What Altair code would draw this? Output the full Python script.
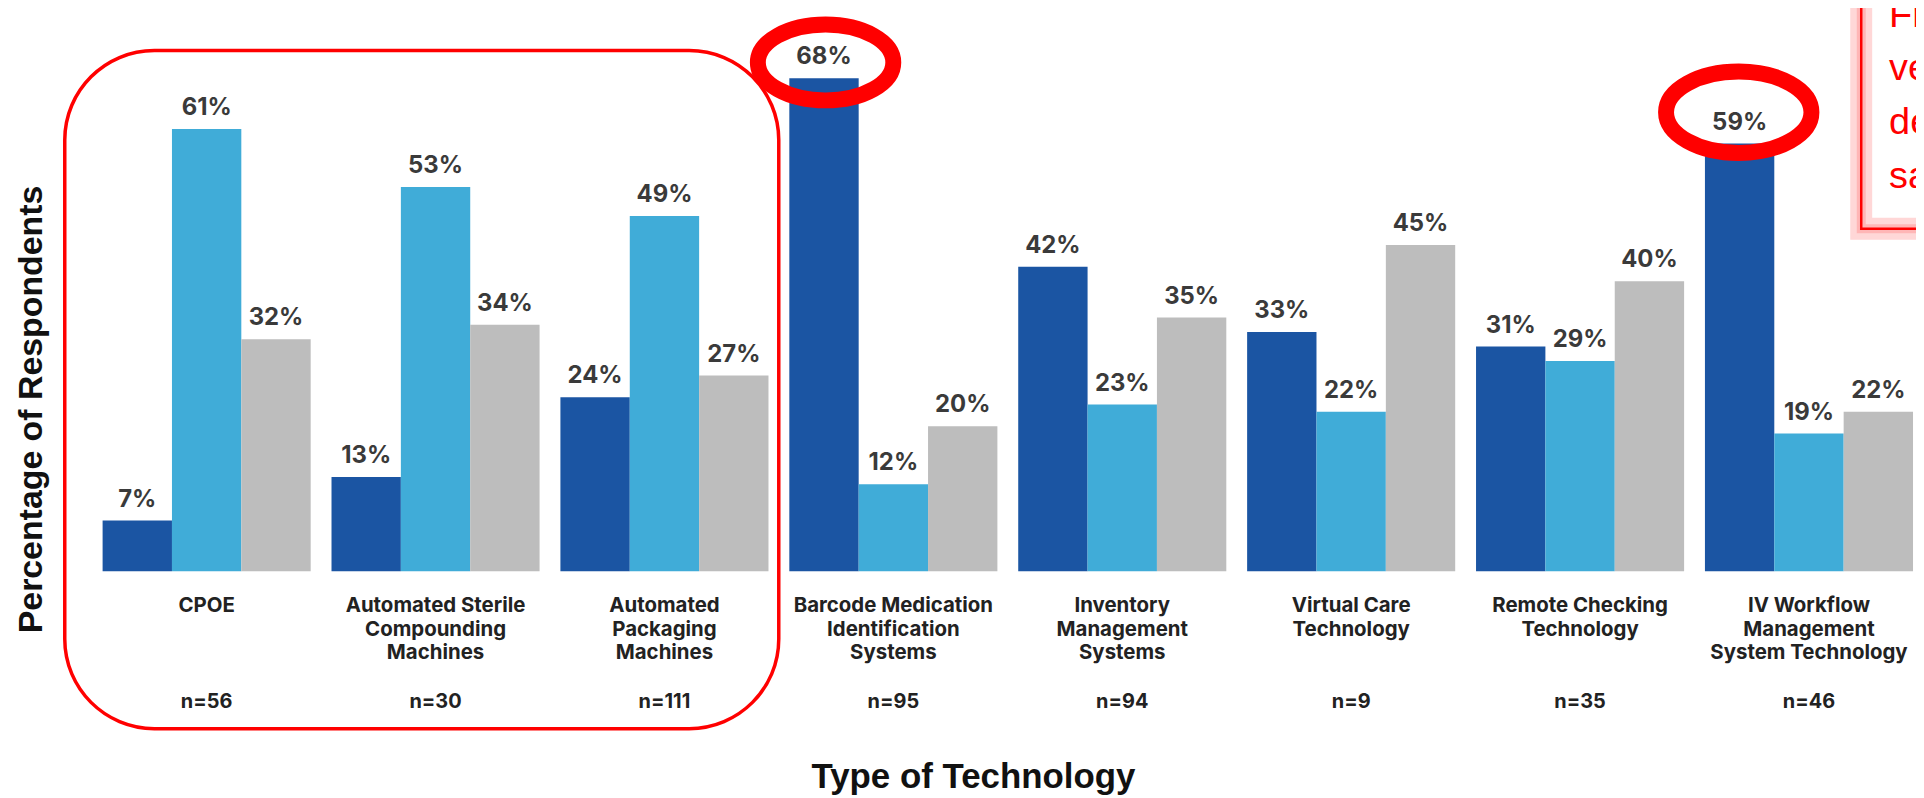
import altair as alt
import pandas as pd

# ---- data ----
categories = [
    "CPOE",
    "Automated Sterile|Compounding|Machines",
    "Automated|Packaging|Machines",
    "Barcode Medication|Identification|Systems",
    "Inventory|Management|Systems",
    "Virtual Care|Technology",
    "Remote Checking|Technology",
    "IV Workflow|Management|System Technology",
]
series = ["Series 1", "Series 2", "Series 3"]
series1 = [7, 13, 24, 68, 42, 33, 31, 59]
series2 = [61, 53, 49, 12, 23, 22, 29, 19]
series3 = [32, 34, 27, 20, 35, 45, 40, 22]
n_values = [56, 30, 111, 95, 94, 9, 35, 46]
colors = ["#1B55A3", "#40ACD8", "#BDBDBD"]
note_lines = ["Fr", "ve", "de", "sa"]

rows = []
for i, cat in enumerate(categories):
    for s, vals in zip(series, [series1, series2, series3]):
        rows.append({"category": cat, "series": s, "value": vals[i],
                     "label": f"{vals[i]}%"})
df = pd.DataFrame(rows)
ndf = pd.DataFrame({"category": categories,
                    "n": [f"n={v}" for v in n_values]})

W, H = 1818, 564
ymax = H / 7.28

x_enc = alt.X(
    "category:N", sort=categories,
    scale=alt.Scale(paddingInner=0.091, paddingOuter=0),
    axis=alt.Axis(
        title="Type of Technology", titleX=874, titleY=217,
        titleAlign="center", titleBaseline="alphabetic",
        titleFont="Liberation Sans", titleFontSize=35, titleFontWeight="bold",
        titleColor="#111111",
        labelExpr="split(datum.label, '|')", labelAngle=0,
        labelFont="Inter", labelFontSize=20.5, labelFontWeight="bold",
        labelColor="#222222", labelLineHeight=24, labelPadding=24,
        labelBaseline="top", labelLimit=400, labelOverlap=False,
        ticks=False, domain=False, grid=False,
    ),
)
xoff = alt.XOffset("series:N", sort=series,
                   scale=alt.Scale(paddingInner=0, paddingOuter=0))
y_enc = alt.Y(
    "value:Q", scale=alt.Scale(domain=[0, ymax], nice=False, zero=True),
    axis=alt.Axis(
        title="Percentage of Respondents", titleX=-61, titleY=401,
        titleAngle=270, titleAlign="center", titleBaseline="alphabetic",
        titleFont="Liberation Sans", titleFontSize=34, titleFontWeight="bold",
        titleColor="#111111",
        labels=False, ticks=False, domain=False, grid=False,
    ),
)
color_enc = alt.Color("series:N", sort=series,
                      scale=alt.Scale(domain=series, range=colors), legend=None)

bars = alt.Chart(df).mark_bar().encode(x=x_enc, xOffset=xoff, y=y_enc, color=color_enc)

values = alt.Chart(df).mark_text(
    font="Inter", fontSize=24, fontWeight="bold", color="#3a3a3a",
    baseline="middle", dy=-21,
).encode(x=x_enc, xOffset=xoff, y=y_enc, text="label:N")

nlabels = alt.Chart(ndf).mark_text(
    font="Inter", fontSize=20, fontWeight="bold", color="#222222",
    baseline="middle",
).encode(x=x_enc, y=alt.value(695), text="n:N")

one = alt.Data(values=[{"a": 1}])

# annotation: rounded box around the first three groups
box = alt.Chart(one).mark_rect(
    filled=False, stroke="#ff0000", strokeWidth=3.5, cornerRadius=90,
).encode(x=alt.value(-38), x2=alt.value(679), y=alt.value(41), y2=alt.value(722))

ellipse = ("M-1,0 C-1,-0.3093 -0.5523,-0.56 0,-0.56 C0.5523,-0.56 1,-0.3093 1,0 "
           "C1,0.3093 0.5523,0.56 0,0.56 C-0.5523,0.56 -1,0.3093 -1,0 Z")
ring1 = alt.Chart(one).mark_point(
    shape=ellipse, size=136 * 136, filled=False, stroke="#ff0000",
    strokeWidth=16, opacity=1,
).encode(x=alt.value(726), y=alt.value(53))
ring2 = alt.Chart(one).mark_point(
    shape=ellipse, size=146 * 146, filled=False, stroke="#ff0000",
    strokeWidth=16, opacity=1,
).encode(x=alt.value(1643), y=alt.value(103))

# annotation: note box at top right (cut off by the picture edge)
glow_outer = alt.Chart(one).mark_rect(
    fill="#ffffff", stroke="#ff8c8c", strokeWidth=22, strokeOpacity=0.35,
).encode(x=alt.value(1766), x2=alt.value(1990), y=alt.value(-60), y2=alt.value(220))
glow_inner = alt.Chart(one).mark_rect(
    filled=False, stroke="#ff6a6a", strokeWidth=9, strokeOpacity=0.3,
).encode(x=alt.value(1766), x2=alt.value(1990), y=alt.value(-60), y2=alt.value(220))
border = alt.Chart(one).mark_rect(
    filled=False, stroke="#ff0000", strokeWidth=2.5,
).encode(x=alt.value(1766), x2=alt.value(1990), y=alt.value(-60), y2=alt.value(220))
note = alt.Chart(one).mark_text(
    font="Liberation Sans", fontSize=38, color="#ff0000", align="left",
    baseline="top", lineHeight=54,
).encode(x=alt.value(1794), y=alt.value(-13), text=alt.value(note_lines))

chart = alt.layer(
    bars, values, nlabels, box, ring1, ring2, glow_outer, glow_inner, border, note
).properties(
    width=W, height=H,
    padding={"left": 95, "top": 0, "right": 3, "bottom": 226},
    autosize=alt.AutoSizeParams(type="none"),
    background="#ffffff",
).configure_view(stroke=None)

chart.save("out.html", embed_options={"renderer": "svg", "actions": False})
